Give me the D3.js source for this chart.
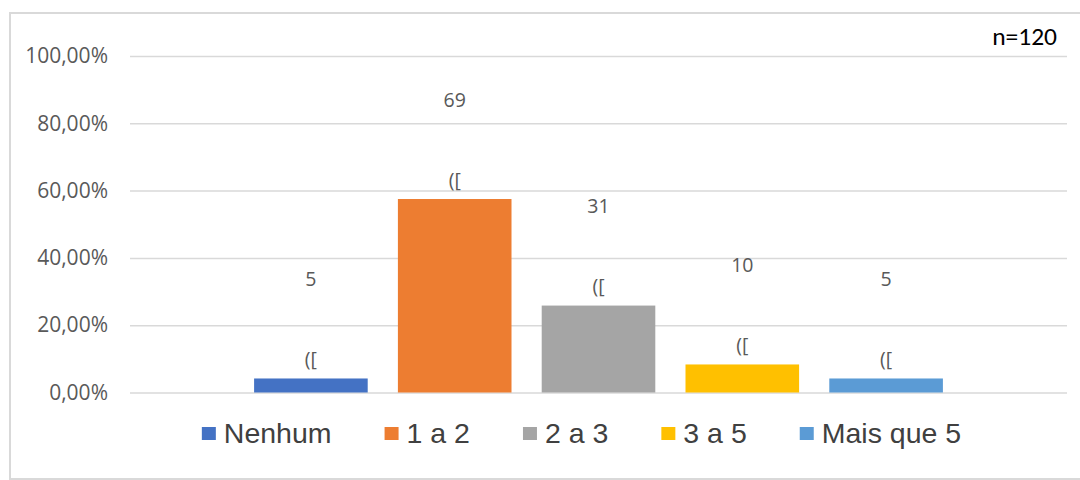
<!DOCTYPE html>
<html>
<head>
<meta charset="utf-8">
<script src="https://cdn.jsdelivr.net/npm/d3@7"></script>
<style>
  html, body { margin: 0; padding: 0; background: #fff; }
  svg { display: block; }
</style>
</head>
<body>
<svg id="chart" width="1080" height="480"></svg>
<script>
// Number of visits per respondent (n = 120)
const categories = ["Nenhum", "1 a 2", "2 a 3", "3 a 5", "Mais que 5"];
const counts = [5, 69, 31, 10, 5];
const total = 120;
const secondLine = ["([", "([", "([", "([", "(["];
const colors = ["#4472C4", "#ED7D31", "#A5A5A5", "#FFC000", "#5B9BD5"];
const yTicks = [0, 0.2, 0.4, 0.6, 0.8, 1.0];
const sampleLabel = "n=120";

const data = categories.map((c, i) => ({
  cat: c,
  count: counts[i],
  share: counts[i] / total,
  extra: secondLine[i],
  color: colors[i]
}));

const svg = d3.select("#chart");
const W = 1080, H = 480;

const ptBR = d3.formatLocale({ decimal: ",", thousands: ".", grouping: [3], currency: ["R$", ""] });
const pct = ptBR.format(".2%");

// chart frame
svg.append("rect")
  .attr("x", 10).attr("y", 13)
  .attr("width", W + 20).attr("height", 466)
  .attr("fill", "#fff")
  .attr("stroke", "#d9d9d9")
  .attr("stroke-width", 2);

const plot = { left: 130, right: 1067, top: 56, bottom: 392.5 };

const y = d3.scaleLinear().domain([0, 1]).range([plot.bottom, plot.top]);
const x = d3.scaleBand()
  .domain(categories)
  .range([239, 958])
  .paddingInner(0.21)
  .paddingOuter(0.105);

// gridlines + tick labels
const yAxis = d3.axisLeft(y)
  .tickValues(yTicks)
  .tickSize(-(plot.right - plot.left))
  .tickPadding(22)
  .tickFormat(pct);

const gy = svg.append("g")
  .attr("transform", `translate(${plot.left},0)`)
  .call(yAxis);
gy.select(".domain").remove();
gy.selectAll(".tick line").attr("stroke", "#d9d9d9").attr("stroke-width", 1.5);
gy.selectAll(".tick text")
  .attr("fill", "#595959")
  .style("font-family", "'Segoe UI', 'Open Sans', sans-serif")
  .style("font-size", "21px");

// bars
svg.append("g").selectAll("rect")
  .data(data)
  .join("rect")
  .attr("x", d => x(d.cat))
  .attr("width", x.bandwidth())
  .attr("y", d => y(d.share))
  .attr("height", d => y(0) - y(d.share))
  .attr("fill", d => d.color);

// data labels: count, then second line
const labelFont = "'Segoe UI', 'Open Sans', sans-serif";
const lbl = svg.append("g")
  .attr("text-anchor", "middle")
  .attr("fill", "#595959")
  .style("font-family", labelFont)
  .style("font-size", "19.5px");

lbl.selectAll("text.count")
  .data(data)
  .join("text")
  .attr("class", "count")
  .attr("x", d => x(d.cat) + x.bandwidth() / 2)
  .attr("y", d => y(d.share) - 99)
  .attr("dy", "0.35em")
  .text(d => d.count);

lbl.selectAll("text.extra")
  .data(data)
  .join("text")
  .attr("class", "extra")
  .attr("x", d => x(d.cat) + x.bandwidth() / 2)
  .attr("y", d => y(d.share) - 19)
  .attr("dy", "0.35em")
  .text(d => d.extra);

// sample size note
svg.append("text")
  .attr("x", 1057).attr("y", 45)
  .attr("text-anchor", "end")
  .attr("fill", "#000")
  .style("font-family", "Calibri, Carlito, 'Open Sans', sans-serif")
  .style("font-size", "25.5px")
  .text(sampleLabel);

// legend
const legend = svg.append("g");
const items = legend.selectAll("g")
  .data(data)
  .join("g");
items.append("rect")
  .attr("width", 14).attr("height", 13)
  .attr("y", 427)
  .attr("fill", d => d.color);
items.append("text")
  .attr("x", 22)
  .attr("y", 442.5)
  .attr("fill", "#404040")
  .style("font-family", "'Liberation Sans', Arial, sans-serif")
  .style("font-size", "28.5px")
  .text(d => d.cat);

const itemGap = 53;
let cursor = 0;
const offsets = [];
items.each(function () {
  const w = 22 + d3.select(this).select("text").node().getComputedTextLength();
  offsets.push(cursor);
  cursor += w + itemGap;
});
const legendWidth = cursor - itemGap;
const legendStart = 581.5 - legendWidth / 2;
items.attr("transform", (d, i) => `translate(${legendStart + offsets[i]},0)`);
</script>
</body>
</html>
